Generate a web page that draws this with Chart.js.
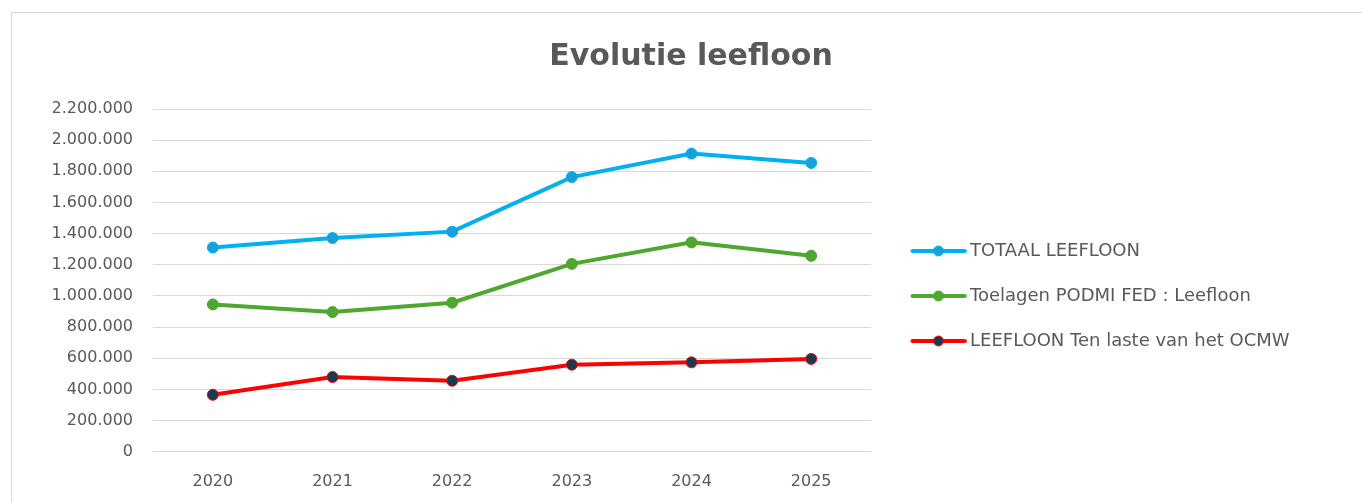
<!DOCTYPE html>
<html>
<head>
<meta charset="utf-8">
<script src="https://cdn.jsdelivr.net/npm/chart.js@4/dist/chart.umd.min.js"></script>
<style>
  html, body { margin: 0; padding: 0; background: #fff; overflow: hidden; }
  #frame {
    position: absolute; left: 11px; top: 12px;
    width: 1350px; height: 490px;
    border-left: 1px solid #d9d9d9; border-top: 1px solid #d9d9d9;
  }
  #myChart { display: block; }
</style>
</head>
<body>
<div id="frame"><canvas id="myChart" width="1349" height="489"></canvas></div>
<script>
const years = ["2020", "2021", "2022", "2023", "2024", "2025"];
const totaal = [1311000, 1372000, 1413000, 1763000, 1914000, 1854000];
const toelagen = [946000, 897000, 957000, 1206000, 1344000, 1258000];
const tenLaste = [366000, 480000, 456000, 559000, 574000, 596000];
const seriesNames = ["TOTAAL LEEFLOON", "Toelagen PODMI FED : Leefloon", "LEEFLOON Ten laste van het OCMW"];

const lineColors = ["#00B0F0", "#4EA72E", "#FF0000"];
const dotColors = ["#1A9FD9", "#4EA72E", "#1B3A4F"];

Chart.defaults.font.family = "'DejaVu Sans', sans-serif";
Chart.defaults.color = "#595959";

function fmt(v) {
  return String(v).replace(/\B(?=(\d{3})+(?!\d))/g, ".");
}

// small line + dot icon for the legend
function legendIcon(i) {
  const c = document.createElement("canvas");
  c.width = 74;
  c.height = 14;
  const g = c.getContext("2d");
  g.strokeStyle = lineColors[i];
  g.lineWidth = 4;
  g.lineCap = "round";
  g.beginPath();
  g.moveTo(20, 7);
  g.lineTo(72, 7);
  g.stroke();
  g.beginPath();
  g.arc(46, 7, 5, 0, Math.PI * 2);
  g.fillStyle = dotColors[i];
  g.fill();
  g.lineWidth = 1;
  g.strokeStyle = lineColors[i];
  g.stroke();
  return c;
}
const icons = [0, 1, 2].map(legendIcon);

function ds(label, data, i) {
  return {
    label: label,
    data: data,
    borderColor: lineColors[i],
    backgroundColor: dotColors[i],
    pointBackgroundColor: dotColors[i],
    pointBorderColor: lineColors[i],
    pointBorderWidth: 1,
    pointRadius: 5.5,
    borderWidth: 4,
    tension: 0,
  };
}

// legend keeps a fixed width so the plot ends where the reference does
const legendWidth = {
  id: "legendWidth",
  beforeLayout(chart) {
    const lg = chart.legend;
    if (lg && !lg._fixed) {
      const fit = lg.fit;
      lg.fit = function () {
        fit.call(this);
        this.width = 458;
      };
      lg._fixed = true;
    }
  },
};

const ctx = document.getElementById("myChart");

const chart = new Chart(ctx, {
  type: "line",
  data: {
    labels: years,
    datasets: [
      ds(seriesNames[0], totaal, 0),
      ds(seriesNames[1], toelagen, 1),
      ds(seriesNames[2], tenLaste, 2),
    ],
  },
  plugins: [legendWidth],
  options: {
    responsive: false,
    animation: false,
    layout: {
      padding: { left: 41, top: 12, bottom: -9, right: 32 },
    },
    scales: {
      x: {
        offset: true,
        grid: { display: false, drawTicks: false },
        border: { display: false },
        ticks: { padding: 20, font: { size: 16 }, color: "#595959" },
      },
      y: {
        min: 0,
        max: 2200000,
        afterFit: (scale) => {
          scale.width = 100;
        },
        grid: { color: "#d9d9d9", drawTicks: false },
        border: { display: false },
        ticks: {
          stepSize: 200000,
          padding: 20,
          font: { size: 16 },
          color: "#595959",
          callback: (v) => fmt(v),
        },
      },
    },
    plugins: {
      title: {
        display: true,
        text: "Evolutie leefloon",
        color: "#595959",
        font: { size: 30, weight: "bold" },
        padding: { top: 14, bottom: 34 },
      },
      legend: {
        position: "right",
        title: {
          display: true,
          text: " ",
          font: { size: 10 },
          padding: { top: 22, bottom: 22 },
        },
        labels: {
          usePointStyle: true,
          pointStyleWidth: 63,
          padding: 27,
          color: "#595959",
          font: { size: 18 },
          generateLabels: (c) => {
            const items = Chart.defaults.plugins.legend.labels.generateLabels(c);
            items.forEach((it, i) => {
              it.pointStyle = icons[i];
            });
            return items;
          },
        },
      },
      tooltip: { enabled: false },
    },
  },
});
</script>
</body>
</html>
